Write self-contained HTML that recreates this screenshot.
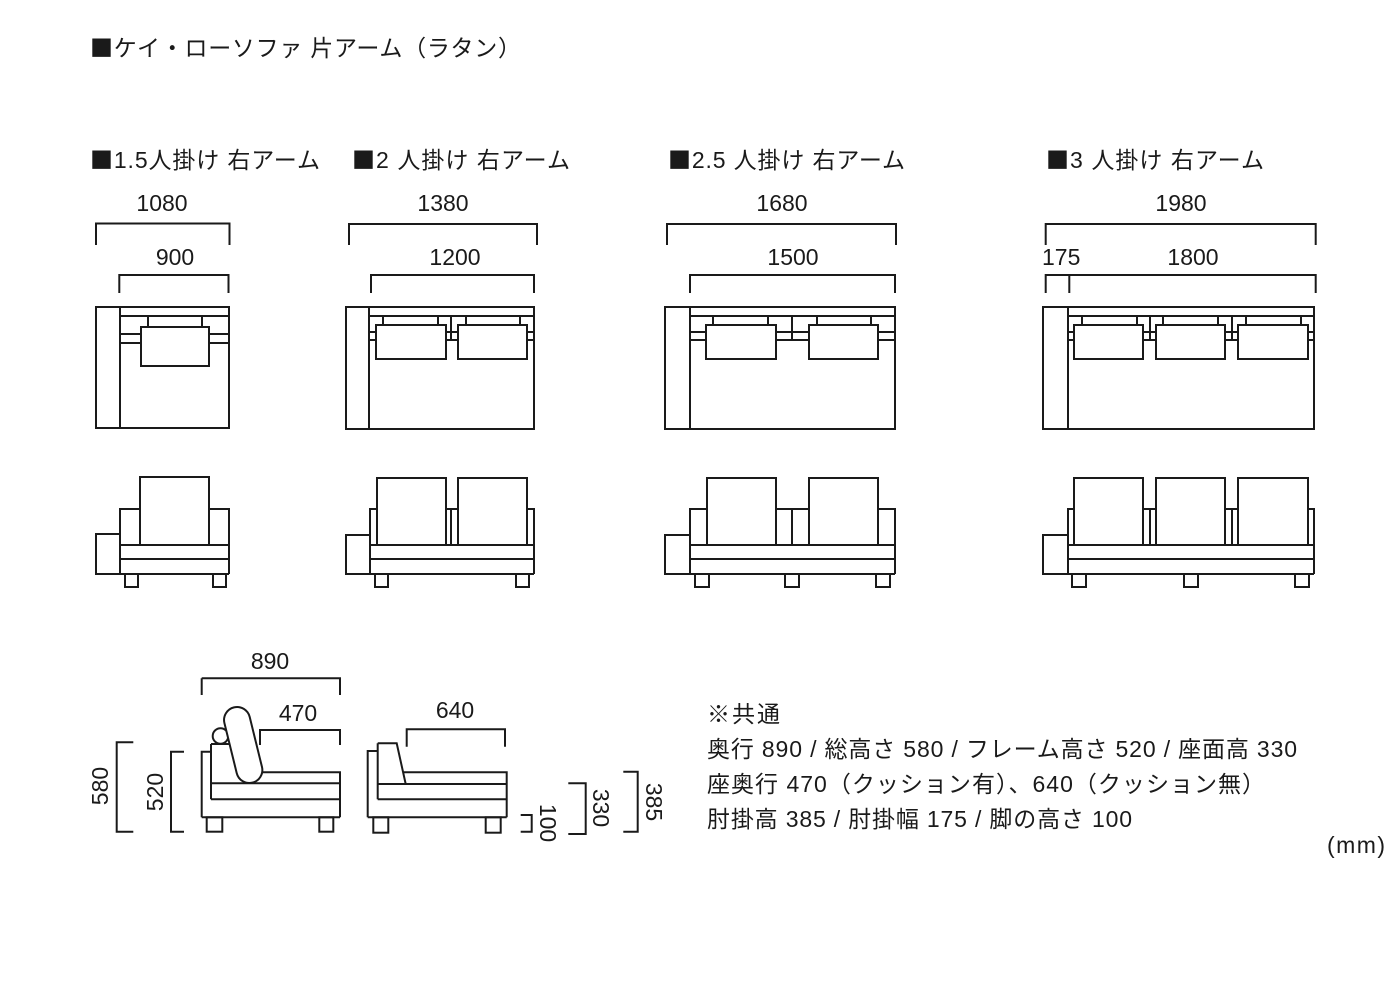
<!DOCTYPE html>
<html>
<head>
<meta charset="utf-8">
<style>
html,body{margin:0;padding:0;background:#fff;}
svg{display:block;}
text{font-family:"Liberation Sans","Noto Sans CJK JP",sans-serif;fill:#1a1a1a;font-size:23px;}
.sq{font-family:"Noto Sans CJK JP",sans-serif;}
</style>
</head>
<body>
<svg width="1400" height="1000" viewBox="0 0 1400 1000" xmlns="http://www.w3.org/2000/svg">
<rect x="0" y="0" width="1400" height="1000" fill="#fff"/>

<!-- Titles -->
<text x="90" y="56" textLength="431" lengthAdjust="spacing"><tspan class="sq">■</tspan>ケイ・ローソファ 片アーム（ラタン）</text>
<text x="90" y="168" textLength="230" lengthAdjust="spacing"><tspan class="sq">■</tspan>1.5人掛け 右アーム</text>
<text x="352" y="168" textLength="218" lengthAdjust="spacing"><tspan class="sq">■</tspan>2 人掛け 右アーム</text>
<text x="668" y="168" textLength="237" lengthAdjust="spacing"><tspan class="sq">■</tspan>2.5 人掛け 右アーム</text>
<text x="1046" y="168" textLength="218" lengthAdjust="spacing"><tspan class="sq">■</tspan>3 人掛け 右アーム</text>

<!-- dimension labels top -->
<g text-anchor="middle">
<text x="162" y="211">1080</text>
<text x="175" y="265">900</text>
<text x="443" y="211">1380</text>
<text x="455" y="265">1200</text>
<text x="782" y="211">1680</text>
<text x="793" y="265">1500</text>
<text x="1181" y="211">1980</text>
<text x="1193" y="265">1800</text>
</g>
<text x="1042" y="265">175</text>

<g fill="none" stroke="#1a1a1a" stroke-width="2">
<!-- top dimension brackets -->
<path d="M96,245 V223.5 H229.5 V245"/>
<path d="M119.3,293 V275 H228.5 V293"/>
<path d="M349,245 V224 H537 V245"/>
<path d="M371,293 V275 H534 V293"/>
<path d="M667,245 V224 H896 V245"/>
<path d="M690,293 V275 H895 V293"/>
<path d="M1045.7,245 V224 H1315.7 V245"/>
<path d="M1045.7,293 V275 H1315.7 V293 M1069.3,275 V293"/>

<!-- 1.5 plan -->
<rect x="96" y="307" width="133" height="121"/>
<path d="M120,307 V428 M120,316 H229 M148,316 V327 M202,316 V327"/>
<rect x="141" y="327" width="68" height="39"/>
<path d="M120,334 H141 M120,343 H141 M209,334 H229 M209,343 H229"/>

<!-- 2 plan -->
<rect x="346" y="307" width="188" height="122"/>
<path d="M369,307 V429 M369,316 H534 M383,316 V325 M438,316 V325 M466,316 V325 M520,316 V325 M451,316 V340"/>
<rect x="376" y="325" width="70" height="34"/>
<rect x="458" y="325" width="69" height="34"/>
<path d="M369,332 H376 M369,340 H376 M446,332 H458 M446,340 H458 M527,332 H534 M527,340 H534"/>

<!-- 2.5 plan -->
<rect x="665" y="307" width="230" height="122"/>
<path d="M690,307 V429 M690,316 H895 M713,316 V325 M768,316 V325 M817,316 V325 M871,316 V325 M792,316 V340"/>
<rect x="706" y="325" width="70" height="34"/>
<rect x="809" y="325" width="69" height="34"/>
<path d="M690,332 H706 M690,340 H706 M776,332 H809 M776,340 H809 M878,332 H895 M878,340 H895"/>

<!-- 3 plan -->
<rect x="1043" y="307" width="271" height="122"/>
<path d="M1068,307 V429 M1068,316 H1314 M1082,316 V325 M1137,316 V325 M1163,316 V325 M1218,316 V325 M1246,316 V325 M1301,316 V325 M1150,316 V340 M1232,316 V340"/>
<rect x="1074" y="325" width="69" height="34"/>
<rect x="1156" y="325" width="69" height="34"/>
<rect x="1238" y="325" width="70" height="34"/>
<path d="M1068,332 H1074 M1068,340 H1074 M1143,332 H1156 M1143,340 H1156 M1225,332 H1238 M1225,340 H1238 M1308,332 H1314 M1308,340 H1314"/>

<!-- 1.5 front -->
<rect x="140" y="477" width="69" height="68"/>
<path d="M120,574 V509 H140 M209,509 H229 V574 M120,545 H229 M120,559 H229 M96,574 H229"/>
<rect x="96" y="534" width="24" height="40"/>
<rect x="125" y="574" width="13" height="13"/>
<rect x="213" y="574" width="13" height="13"/>

<!-- 2 front -->
<rect x="377" y="478" width="69" height="67"/>
<rect x="458" y="478" width="69" height="67"/>
<path d="M370,574 V509 H377 M446,509 H458 M451,509 V545 M527,509 H534 V574 M370,545 H534 M370,559 H534 M346,574 H534"/>
<rect x="346" y="535" width="24" height="39"/>
<rect x="375" y="574" width="13" height="13"/>
<rect x="516" y="574" width="13" height="13"/>

<!-- 2.5 front -->
<rect x="707" y="478" width="69" height="67"/>
<rect x="809" y="478" width="69" height="67"/>
<path d="M690,574 V509 H707 M776,509 H809 M792,509 V545 M878,509 H895 V574 M690,545 H895 M690,559 H895 M665,574 H895"/>
<rect x="665" y="535" width="25" height="39"/>
<rect x="695" y="574" width="14" height="13"/>
<rect x="785" y="574" width="14" height="13"/>
<rect x="876" y="574" width="14" height="13"/>

<!-- 3 front -->
<rect x="1074" y="478" width="69" height="67"/>
<rect x="1156" y="478" width="69" height="67"/>
<rect x="1238" y="478" width="70" height="67"/>
<path d="M1068,574 V509 H1074 M1143,509 H1156 M1150,509 V545 M1225,509 H1238 M1232,509 V545 M1308,509 H1314 V574 M1068,545 H1314 M1068,559 H1314 M1043,574 H1314"/>
<rect x="1043" y="535" width="25" height="39"/>
<rect x="1072" y="574" width="14" height="13"/>
<rect x="1184" y="574" width="14" height="13"/>
<rect x="1295" y="574" width="14" height="13"/>

<!-- side view 1 -->
<path d="M201.7,678.3 V695 M201.7,678.3 H340 V695"/>
<path d="M260,745 V730 H340 V745"/>
<path d="M133.3,742.3 H116.7 V831.7 H133.3"/>
<path d="M184,751.7 H171 V831.7 H184"/>
<path d="M201.7,817.3 V751.7 H211 M211,744 V799.3 M211,744 H229 M250,772.3 H340 V817.3 M211,783.3 H340 M211,799.3 H340 M201.7,817.3 H340"/>
<circle cx="220.5" cy="736" r="7.8" fill="#fff"/>
<rect x="-13" y="-38.75" width="26" height="77.5" rx="13" ry="13" fill="#fff" transform="translate(243.2,745) rotate(-13.8)"/>
<rect x="206.7" y="817.3" width="15.6" height="14.4"/>
<rect x="319.3" y="817.3" width="14" height="14.4"/>

<!-- side view 2 -->
<path d="M406.7,746.7 V729.3 H505 V746.7"/>
<path d="M367.7,817.3 V751 H377.7 M377.7,743.3 V799.3 M377.7,743.3 H396.7 L405.7,784 M403,772.3 H506.7 V817.3 M377.7,784 H506.7 M377.7,799.3 H506.7 M367.7,817.3 H506.7"/>
<rect x="373.3" y="817.3" width="15" height="15.4"/>
<rect x="485.7" y="817.3" width="15" height="15.4"/>
<path d="M520.7,815 H531.7 V831.7 H520.7"/>
<path d="M568.3,783.3 H585.7 V834 H568.3"/>
<path d="M623.3,771.7 H637.7 V831.7 H623.3"/>
</g>

<!-- side labels -->
<g text-anchor="middle">
<text x="270" y="669">890</text>
<text x="298" y="721">470</text>
<text x="455" y="718">640</text>
<text transform="translate(100,786) rotate(-90)" dominant-baseline="central">580</text>
<text transform="translate(155,792) rotate(-90)" dominant-baseline="central">520</text>
<text transform="translate(548,823) rotate(90)" dominant-baseline="central">100</text>
<text transform="translate(601,808) rotate(90)" dominant-baseline="central">330</text>
<text transform="translate(654,802) rotate(90)" dominant-baseline="central">385</text>
</g>

<!-- spec text -->
<text x="707" y="722" textLength="73" lengthAdjust="spacing">※共通</text>
<text x="707" y="757" textLength="590" lengthAdjust="spacing">奥行 890 / 総高さ 580 / フレーム高さ 520 / 座面高 330</text>
<text x="707" y="792" textLength="558" lengthAdjust="spacing">座奥行 470（クッション有）、640（クッション無）</text>
<text x="707" y="827" textLength="425" lengthAdjust="spacing">肘掛高 385 / 肘掛幅 175 / 脚の高さ 100</text>
<text x="1327" y="853" textLength="58" lengthAdjust="spacing">(mm)</text>
</svg>
</body>
</html>
